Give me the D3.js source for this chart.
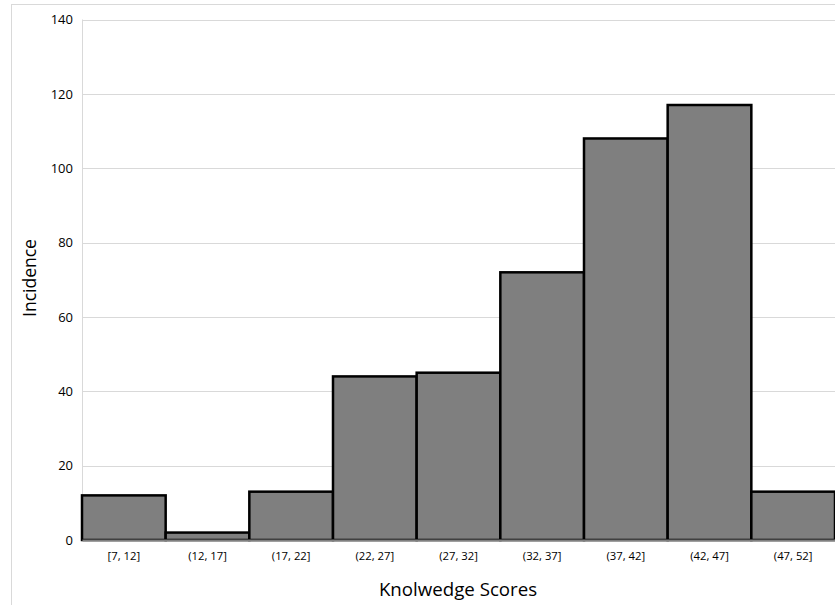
<!DOCTYPE html>
<html><head><meta charset="utf-8">
<script src="https://cdn.jsdelivr.net/npm/d3@7"></script>
<style>body{margin:0;background:#fff}svg{display:block}</style>
</head><body>
<svg id="c" width="835" height="605"></svg>
<script>
const categories = ["[7, 12]","(12, 17]","(17, 22]","(22, 27]","(27, 32]","(32, 37]","(37, 42]","(42, 47]","(47, 52]"];
const counts = [12, 2, 13, 44, 45, 72, 108, 117, 13];
const yTicks = [0, 20, 40, 60, 80, 100, 120, 140];
const xTitle = "Knolwedge Scores";
const yTitle = "Incidence";

const svg = d3.select("#c");
const font = "'Open Sans', sans-serif";
const m = {left: 82, right: 835, top: 19.5, bottom: 540};

svg.append("rect").attr("x", 11.5).attr("y", 4.5).attr("width", 900).attr("height", 700)
  .attr("fill", "none").attr("stroke", "#d9d9d9").attr("stroke-width", 1);

const x = d3.scaleBand().domain(categories).range([m.left, m.right]).padding(0);
const y = d3.scaleLinear().domain([0, 140]).range([m.bottom, m.top]);

// gridlines
svg.append("g").selectAll("line").data(yTicks.filter(d => d > 0)).join("line")
  .attr("x1", m.left).attr("x2", m.right)
  .attr("y1", d => Math.round(y(d)) + 0.5).attr("y2", d => Math.round(y(d)) + 0.5)
  .attr("stroke", "#d9d9d9").attr("stroke-width", 1);
svg.append("line").attr("x1", m.left + 0.5).attr("x2", m.left + 0.5)
  .attr("y1", m.top).attr("y2", m.bottom).attr("stroke", "#d9d9d9");

// y axis
const yAxis = svg.append("g").attr("transform", `translate(${m.left},0)`)
  .call(d3.axisLeft(y).tickValues(yTicks).tickSize(0).tickPadding(9));
yAxis.select(".domain").remove();
yAxis.selectAll("text").attr("font-family", font).attr("font-size", 13).attr("fill", "#000");

// bars
svg.append("g").selectAll("rect").data(counts).join("rect")
  .attr("x", (d, i) => x(categories[i]))
  .attr("y", d => y(d))
  .attr("width", x.bandwidth())
  .attr("height", d => y(0) - y(d))
  .attr("fill", "#7f7f7f").attr("stroke", "#000").attr("stroke-width", 2.5);

// x axis
const xAxis = svg.append("g").attr("transform", `translate(0,${m.bottom})`)
  .call(d3.axisBottom(x).tickSize(0).tickPadding(12));
xAxis.select(".domain").attr("stroke", "#808080").attr("stroke-width", 2);
xAxis.selectAll("text").attr("font-family", font).attr("font-size", 11.3).attr("fill", "#000");

svg.append("text").attr("x", 458).attr("y", 596).attr("text-anchor", "middle")
  .attr("font-family", font).attr("font-size", 18.7).attr("fill", "#000").text(xTitle);
svg.append("text").attr("transform", `translate(36,278) rotate(-90)`).attr("text-anchor", "middle")
  .attr("font-family", font).attr("font-size", 17.5).attr("fill", "#000").text(yTitle);
</script>
</body></html>
